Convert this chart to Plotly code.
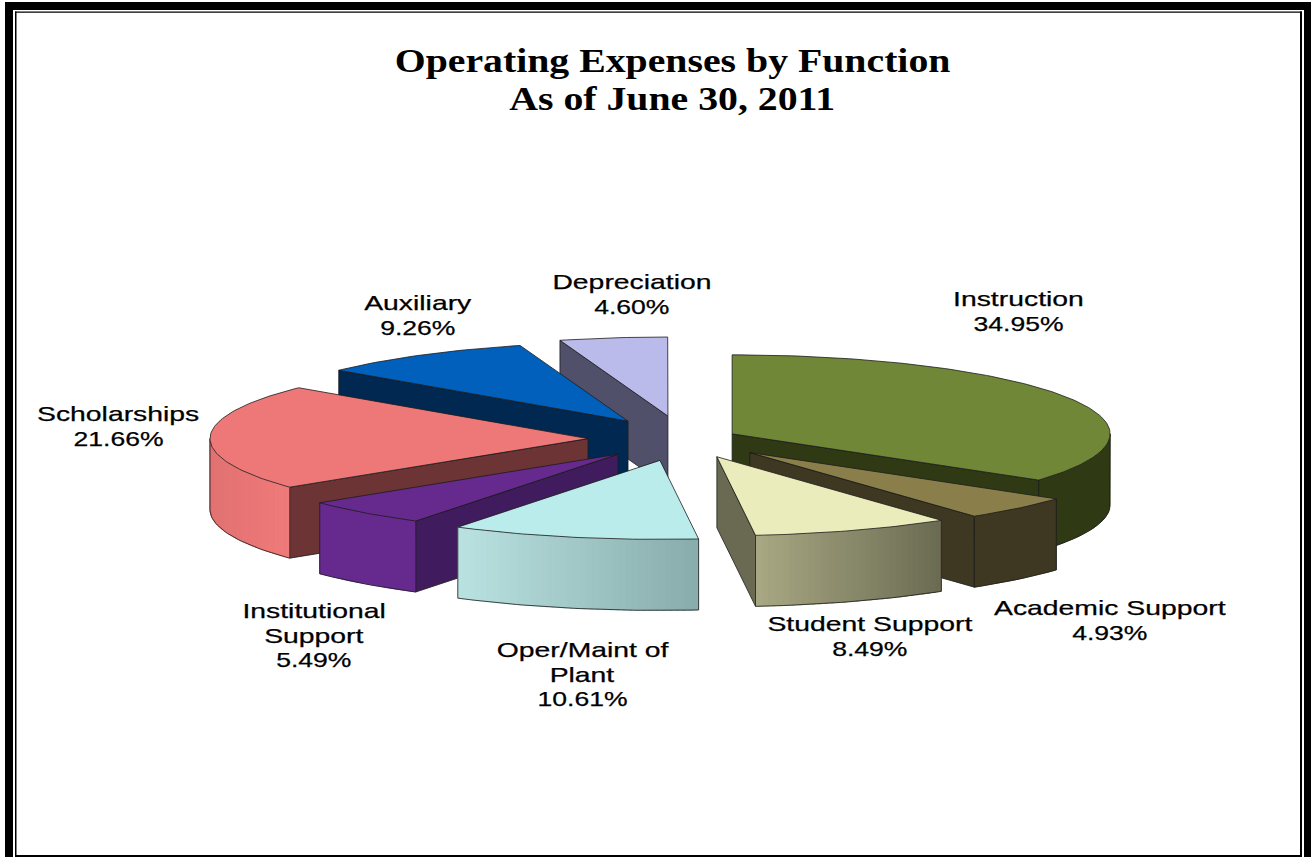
import math
import plotly.graph_objects as go

# Expense shares, in percent, clockwise from twelve o'clock
categories = ["Instruction", "Academic Support", "Student Support", "Oper/Maint of Plant",
              "Institutional Support", "Scholarships", "Auxiliary", "Depreciation"]
shares = [34.95, 4.93, 8.49, 10.61, 5.49, 21.66, 9.26, 4.60]

label_lines = [["Instruction"], ["Academic Support"], ["Student Support"], ["Oper/Maint of", "Plant"],
               ["Institutional", "Support"], ["Scholarships"], ["Auxiliary"], ["Depreciation"]]
title_lines = ["Operating Expenses by Function", "As of June 30, 2011"]

# How far each slice is pulled out of the pie
pull = [0.143, 0.245, 0.241, 0.278, 0.26, 0.254, 0.27, 0.294]

# Slice colours: top face, radial wall, rim gradient left and right
top_colors = ["#6F8737", "#8A7F4B", "#EBECBC", "#B9ECEB", "#662A8E", "#EE7878", "#0060BC", "#BBBBEB"]
wall_colors = ["#2F3A14", "#3E3721", "#6A6A52", "#8AADAD", "#401C5E", "#6C3434", "#002850", "#50506A"]
rim_left = ["#2F3A14", "#3E3721", "#A8A884", "#B9E2E1", "#662A8E", "#E27272", "#002850", "#50506A"]
rim_right = ["#2F3A14", "#3E3721", "#6A6A52", "#88ABAB", "#662A8E", "#F07A7A", "#002850", "#50506A"]

# Label anchors (centre of the first line) and draw order, back to front
label_anchor = [(1018, 298.5), (1110, 607.5), (870, 623.5), (582, 649.5), (314, 610.5), (118, 413.5), (418, 302.5), (632, 281.5)]
draw_order = [7, 0, 6, 5, 4, 1, 2, 3]

CX, CY = 684, 439
RX, RY = 378, 79
DEPTH = 71
EDGE = "#1c1c1c"


def hex_rgb(c):
    return tuple(int(c[i:i + 2], 16) for i in (1, 3, 5))


def mix(a, b, t):
    ra, rb = hex_rgb(a), hex_rgb(b)
    return "rgb(%d,%d,%d)" % tuple(round(p + (q - p) * t) for p, q in zip(ra, rb))


def rim_point(ax, ay, deg, drop=0):
    r = math.radians(deg)
    return ax + RX * math.sin(r), ay - RY * math.cos(r) + drop


def polygon(fig, pts, fill, line=None, width=0.8):
    xs = [p[0] for p in pts] + [pts[0][0]]
    ys = [p[1] for p in pts] + [pts[0][1]]
    fig.add_trace(go.Scatter(x=xs, y=ys, mode="lines", fill="toself", fillcolor=fill,
                             line=dict(color=line or fill, width=width),
                             hoverinfo="skip", showlegend=False))


def arc(ax, ay, a, b, drop=0, step=1.0):
    n = max(2, int(abs(b - a) / step) + 1)
    return [rim_point(ax, ay, a + (b - a) * i / (n - 1), drop) for i in range(n)]


fig = go.Figure()

# Slice angles come from the cumulative shares
starts, ends, running = [], [], 0.0
for s in shares:
    starts.append(running * 3.6)
    running += s
    ends.append(running * 3.6)

for i in draw_order:
    a, b = starts[i], ends[i]
    mid = math.radians((a + b) / 2)
    ax = CX + pull[i] * RX * math.sin(mid)
    ay = CY - pull[i] * RY * math.cos(mid)

    # Radial wall facing the viewer
    if math.sin(math.radians(a)) < 0:
        edge_angle = a
    elif math.sin(math.radians(b)) > 0:
        edge_angle = b
    else:
        edge_angle = None
    if edge_angle is not None:
        rx_, ry_ = rim_point(ax, ay, edge_angle)
        polygon(fig, [(ax, ay), (rx_, ry_), (rx_, ry_ + DEPTH), (ax, ay + DEPTH)], wall_colors[i], EDGE)

    # Curved outer wall; shaded slices are built from overlapping narrow strips
    lo, hi = max(a, 90), min(b, 270)
    if hi > lo:
        if rim_left[i] == rim_right[i]:
            polygon(fig, arc(ax, ay, lo, hi) + arc(ax, ay, hi, lo, DEPTH), rim_left[i])
        else:
            x_right = rim_point(ax, ay, lo)[0]
            x_left = rim_point(ax, ay, hi)[0]
            n = max(1, int(hi - lo))
            for k in range(n):
                a0 = lo + (hi - lo) * k / n
                a1 = min(hi, lo + (hi - lo) * (k + 1.5) / n)
                x_mid = rim_point(ax, ay, (a0 + a1) / 2)[0]
                t = (x_mid - x_left) / (x_right - x_left)
                strip = arc(ax, ay, a0, a1) + arc(ax, ay, a1, a0, DEPTH)
                polygon(fig, strip, mix(rim_left[i], rim_right[i], t), width=0.6)
        outline = arc(ax, ay, lo, hi, DEPTH)
        p_lo, p_hi = rim_point(ax, ay, lo), rim_point(ax, ay, hi)
        xs = [p_lo[0]] + [p[0] for p in outline] + [p_hi[0]]
        ys = [p_lo[1]] + [p[1] for p in outline] + [p_hi[1]]
        fig.add_trace(go.Scatter(x=xs, y=ys, mode="lines", line=dict(color=EDGE, width=0.8),
                                 hoverinfo="skip", showlegend=False))

    # Top face
    polygon(fig, [(ax, ay)] + arc(ax, ay, a, b), top_colors[i], EDGE)

annotations = []
for i, lines in enumerate(label_lines):
    x0, y0 = label_anchor[i]
    texts = lines + ["%.2f%%" % shares[i]]
    for j, t in enumerate(texts):
        annotations.append(dict(x=x0, y=y0 + j * 24.6, text=t, xref="x", yref="y", showarrow=False,
                                xanchor="center", yanchor="middle",
                                font=dict(family="Liberation Sans", size=21, color="#000000")))
for j, t in enumerate(title_lines):
    annotations.append(dict(x=672, y=61 + j * 38, text="<b>%s</b>" % t, xref="x", yref="y", showarrow=False,
                            xanchor="center", yanchor="middle",
                            font=dict(family="Liberation Serif", size=33, color="#000000")))

# Double frame round the page
frame = [
    dict(x0=5, x1=13, y0=2, y1=857),
    dict(x0=5, x1=1311, y0=2, y1=10),
    dict(x0=1304, x1=1311, y0=2, y1=857),
    dict(x0=15, x1=16.5, y0=11.5, y1=857),
    dict(x0=15, x1=1302, y0=11.5, y1=12.8),
    dict(x0=1300, x1=1302, y0=11.5, y1=857),
    dict(x0=15, x1=1302, y0=855, y1=857),
]
shapes = [dict(type="rect", xref="x", yref="y", line=dict(width=0), fillcolor="#000000", **f) for f in frame]

fig.update_layout(
    width=1311, height=857, margin=dict(l=0, r=0, t=0, b=0),
    paper_bgcolor="white", plot_bgcolor="white", showlegend=False,
    xaxis=dict(range=[0, 1311], visible=False, fixedrange=True),
    yaxis=dict(range=[857, 0], visible=False, fixedrange=True),
    annotations=annotations, shapes=shapes,
)

# The type is set wide: stretch each text run horizontally around its centre
widen_text = """
document.querySelectorAll('.annotation-text').forEach(function (t) {
    var s = t.textContent;
    var isTitle = s.indexOf('Operating') === 0 || s.indexOf('As of') === 0;
    var factor = isTitle ? 1.205 : (s.indexOf('%') >= 0 ? 1.265 : 1.35);
    t.setAttribute('textLength', t.getComputedTextLength() * factor);
    t.setAttribute('lengthAdjust', 'spacingAndGlyphs');
    if (!isTitle) { t.style.stroke = '#000'; t.style.strokeWidth = '0.25px'; }
});
"""
fig.write_html("out.html", post_script=widen_text)
